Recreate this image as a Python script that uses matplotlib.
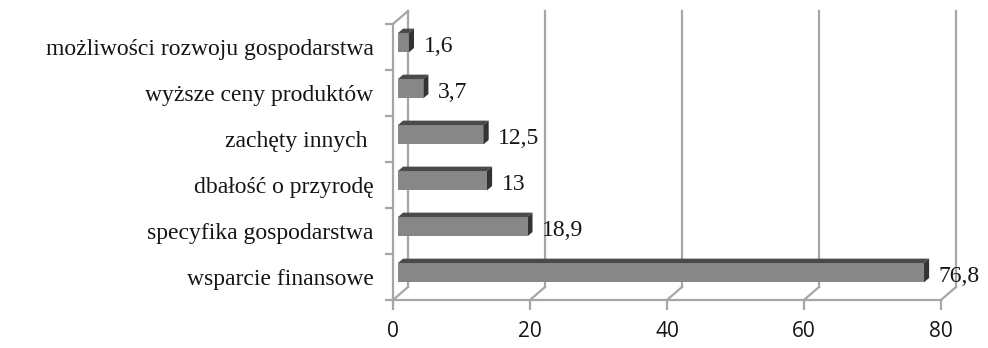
import matplotlib
matplotlib.use("Agg")
import matplotlib.pyplot as plt
from matplotlib.patches import Polygon

# motives, listed bottom to top
categories = ["wsparcie finansowe", "specyfika gospodarstwa", "dbałość o przyrodę",
              "zachęty innych ", "wyższe ceny produktów", "możliwości rozwoju gospodarstwa"]
values = [76.8, 18.9, 13, 12.5, 3.7, 1.6]
value_labels = ["76,8", "18,9", "13", "12,5", "3,7", "1,6"]
xticks = [0, 20, 40, 60, 80]

grid_c = "#a6a6a6"
front_c = "#878787"
top_c = "#4a4a4a"
side_c = "#333333"
text_c = "#151515"

fig = plt.figure(figsize=(9.88, 3.48), dpi=100)
ax = fig.add_axes([393 / 988, 1 - 300 / 348, 548 / 988, 276 / 348])
ax.set_xlim(0, 80)
ax.set_ylim(-0.5, 5.5)

# depth of the 3d box in data units (about 15 px to the right and up)
DX = 15 / (548 / 80)
DY = 13 / 46
f, b = 0.33, 0.67   # bar front / back depth fractions
H = 0.42

# back wall gridlines with the slanted floor connectors
for x in xticks:
    ax.plot([x + DX, x + DX], [-0.5 + DY, 5.5 + DY], color=grid_c, lw=1.6, clip_on=False)
    ax.plot([x, x + DX], [-0.5, -0.5 + DY], color=grid_c, lw=1.6, clip_on=False)
# left wall top edge
ax.plot([0, DX], [5.5, 5.5 + DY], color=grid_c, lw=1.6, clip_on=False)

# bars
ys = [i + f * DY for i in range(len(values))]
ax.barh(ys, values, left=f * DX, height=H, color=front_c, edgecolor="none", zorder=3,
        clip_on=False)
for i, v in enumerate(values):
    y0 = i - H / 2 + f * DY
    y1 = i + H / 2 + f * DY
    top = [(f * DX, y1), (v + f * DX, y1), (v + b * DX, y1 + (b - f) * DY), (b * DX, y1 + (b - f) * DY)]
    side = [(v + f * DX, y0), (v + f * DX, y1), (v + b * DX, y1 + (b - f) * DY), (v + b * DX, y0 + (b - f) * DY)]
    ax.add_patch(Polygon(top, closed=True, color=top_c, lw=0, zorder=3, clip_on=False))
    ax.add_patch(Polygon(side, closed=True, color=side_c, lw=0, zorder=3, clip_on=False))
    ax.annotate(value_labels[i], (v + b * DX, i), xytext=(7, 0),
                textcoords="offset points", va="center", ha="left",
                fontsize=17, family="Liberation Serif", color=text_c)

# axes frame
for s in ["top", "right"]:
    ax.spines[s].set_visible(False)
for s in ["left", "bottom"]:
    ax.spines[s].set_color(grid_c)
    ax.spines[s].set_linewidth(1.6)

ax.set_xticks(xticks)
ax.set_xticklabels([str(t) for t in xticks], fontsize=15, family="Open Sans", color=text_c)
ax.tick_params(axis="x", length=7, width=1.6, color=grid_c, pad=8)

ax.set_yticks(range(len(categories)))
ax.set_yticklabels(categories, fontsize=17, family="Liberation Serif", color=text_c)
ax.set_yticks([k - 0.5 for k in range(len(categories) + 1)], minor=True)
ax.tick_params(axis="y", which="major", length=0, pad=14)
ax.tick_params(axis="y", which="minor", length=6, width=1.6, color=grid_c)

ax.patch.set_visible(False)
fig.savefig("out.png", dpi=100)
